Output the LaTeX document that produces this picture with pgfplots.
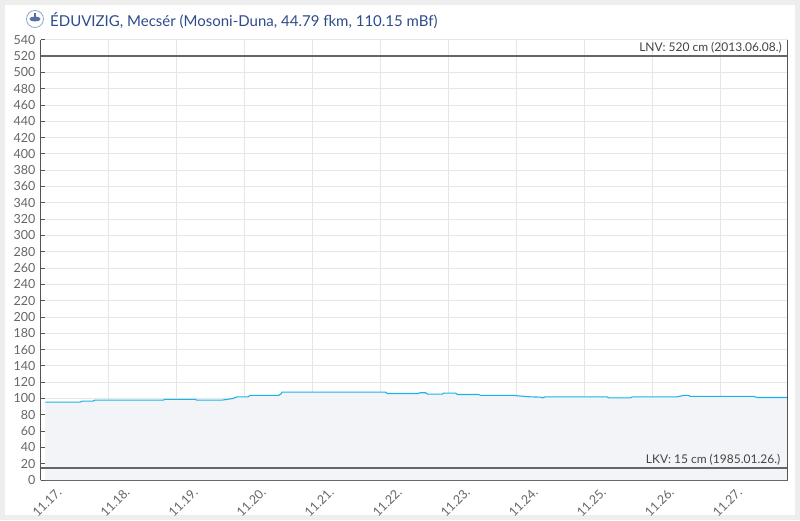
\documentclass[border=0pt]{standalone}
\usepackage{pgfplots}
\pgfplotsset{compat=1.18}
\usepackage{fontspec}
\setmainfont{Lato}
\definecolor{bggray}{HTML}{EEEEEE}
\definecolor{gridc}{HTML}{E6E6E6}
\definecolor{axisc}{HTML}{555555}
\definecolor{tickc}{HTML}{666666}
\definecolor{titlec}{HTML}{2E4C8C}
\definecolor{linec}{HTML}{1BB4E6}
\definecolor{areac}{HTML}{F3F4F8}
\definecolor{refc}{HTML}{666666}
\definecolor{labc}{HTML}{444444}
\pgfplotstableread{
d v
0.07 95.5
0.58 95.5
0.61 96.7
0.77 96.7
0.80 98
1.80 98
1.83 98.8
2.27 98.8
2.30 98
2.67 98
2.83 100
2.89 102
3.05 102
3.08 103.7
3.50 103.7
3.53 105.3
3.55 107.8
5.07 107.8
5.10 106.1
5.55 106.1
5.58 107
5.66 107
5.69 105.3
5.91 105.3
5.92 106.5
6.10 106.5
6.13 104.9
6.44 104.9
6.47 103.7
6.95 103.7
7.20 102
7.35 101.6
7.38 100.8
7.42 102
8.33 102
8.35 100.8
8.67 100.8
8.70 102
9.36 102
9.45 103.7
9.53 103.7
9.55 102.5
10.48 102.5
10.54 101.2
10.98 101.2
}\levdata
\begin{document}
\begin{tikzpicture}[x=1pt,y=1pt]
\fill[bggray] (0,0) rectangle (800,520);
\fill[white] (5,5) rectangle (795,515);
% icon
\fill[white] (35,501) circle (9);
\draw[titlec!50, line width=0.8pt] (35,501) circle (8.5);
\fill[titlec!80] (35,501) ellipse (5.5 and 2.5);
\fill[titlec!80] (34,502) rectangle (36,507);
\node[anchor=base west, inner sep=0pt, text=titlec, font=\fontsize{15}{18}\selectfont] at (50,493.5) {ÉDUVIZIG, Mecsér (Mosoni-Duna, 44.79 fkm, 110.15 mBf)};
\begin{axis}[
  at={(40.5pt,40pt)}, anchor=south west,
  scale only axis, width=747pt, height=440.3pt,
  xmin=0, xmax=10.98, ymin=0, ymax=540,
  axis lines=left, axis line style={-, draw=axisc, line width=1pt},
  xtick={0,...,10},
  xticklabels={11.17.,11.18.,11.19.,11.20.,11.21.,11.22.,11.23.,11.24.,11.25.,11.26.,11.27.},
  ytick={0,20,...,540},
  tick align=inside, major tick length=5pt,
  tick style={draw=axisc, line width=0.8pt},
  grid=major, major grid style={draw=gridc, line width=0.8pt},
  /pgf/number format/assume math mode=true,
  ticklabel style={text=tickc, font=\fontsize{12.5}{14}\selectfont},
  yticklabel style={inner sep=0pt, xshift=-5pt},
  xticklabel style={xshift=19pt, yshift=-10pt, rotate=45, anchor=east, inner sep=0pt},
  clip=false,
]
\addplot[fill=areac, draw=none] table[x=d, y=v] {\levdata} \closedcycle;
\addplot[draw=linec, line width=1.1pt] table[x=d, y=v] {\levdata};
\draw[refc, line width=1.6pt] (axis cs:0,520) -- (axis cs:10.98,520);
\draw[refc, line width=1.6pt] (axis cs:0,15) -- (axis cs:10.98,15);
\draw[axisc, line width=1.2pt] (axis cs:10.98,0) -- (axis cs:10.98,540);
\node[anchor=base east, inner sep=0pt, text=labc, font=\fontsize{12}{14}\selectfont] at ([xshift=-5.5pt, yshift=4.5pt]axis cs:10.98,520) {LNV: 520 cm (2013.06.08.)};
\node[anchor=base east, inner sep=0pt, text=labc, font=\fontsize{12}{14}\selectfont] at ([xshift=-7pt, yshift=4.5pt]axis cs:10.98,15) {LKV: 15 cm (1985.01.26.)};
\end{axis}
\end{tikzpicture}
\end{document}
